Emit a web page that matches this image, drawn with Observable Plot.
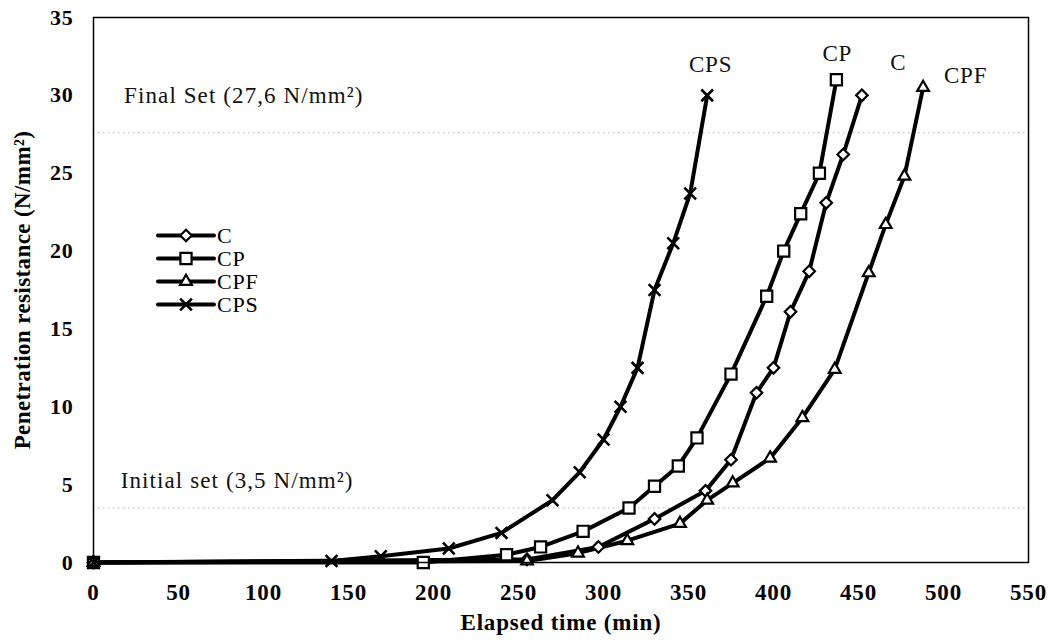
<!DOCTYPE html>
<html>
<head>
<meta charset="utf-8">
<script src="https://cdn.jsdelivr.net/npm/d3@7"></script>
<script src="https://cdn.jsdelivr.net/npm/@observablehq/plot@0.6"></script>
<style>
  html, body { margin: 0; padding: 0; background: #fff; }
  #wrap { position: relative; width: 1048px; height: 641px; font-family: "Liberation Serif", "Times New Roman", serif; }
  #legend { position: absolute; left: 156px; top: 224px; font-size: 22px; line-height: 23px; color: #000; letter-spacing: 0.8px; }
  #legend .row { display: flex; align-items: center; height: 23px; }
  #legend svg { display: block; }
  #wrap svg .wide text, #wrap svg text.wide { letter-spacing: 0.8px; }
  #wrap svg .wider text, #wrap svg text.wider { letter-spacing: 0.4px; }
  #wrap svg .setlab text, #wrap svg text.setlab { letter-spacing: 1.1px; }
</style>
</head>
<body>
<div id="wrap"></div>
<script>
// ---- Data ----
const seriesNames = ["C", "CP", "CPF", "CPS"];

const C_time = [0, 255, 297, 330, 360, 375, 390, 400, 410, 421, 431, 441, 452];
const C_val  = [0, 0.2, 1.0, 2.8, 4.6, 6.6, 10.9, 12.5, 16.1, 18.7, 23.1, 26.2, 30.0];

const CP_time = [0, 194, 243, 263, 288, 315, 330, 344, 355, 375, 396, 406, 416, 427, 437];
const CP_val  = [0, 0, 0.5, 1.0, 2.0, 3.5, 4.9, 6.2, 8.0, 12.1, 17.1, 20.0, 22.4, 25.0, 31.0];

const CPF_time = [0, 255, 285, 314, 345, 361, 376, 398, 417, 436, 456, 466, 477, 488];
const CPF_val  = [0, 0.1, 0.6, 1.4, 2.5, 4.0, 5.1, 6.7, 9.3, 12.4, 18.6, 21.7, 24.8, 30.5];

const CPS_time = [0, 140, 169, 209, 240, 270, 286, 300, 310, 320, 330, 341, 351, 361];
const CPS_val  = [0, 0.1, 0.4, 0.9, 1.9, 4.0, 5.8, 7.9, 10.0, 12.5, 17.5, 20.5, 23.7, 30.0];

const xTicks = [0, 50, 100, 150, 200, 250, 300, 350, 400, 450, 500, 550];
const yTicks = [0, 5, 10, 15, 20, 25, 30, 35];

const setLevels = [3.5, 27.6];
const setTexts = ["Initial set (3,5 N/mm²)", "Final Set (27,6 N/mm²)"];
const setTextX = [16, 18];
const setTextY = [4.8, 29.5];

const endLabelX = [473.5, 437.5, 513, 363];
const endLabelY = [31.6, 32.2, 30.8, 31.5];

const xTitle = "Elapsed time (min)";
const yTitle = "Penetration resistance (N/mm²)";

// ---- Build tables ----
const symbols = {C: "diamond2", CP: "square", CPF: "triangle2", CPS: "times"};
const radius = {C: 5.2, CP: 6.3, CPF: 5.6, CPS: 5.4};
const rows = [];
[[C_time, C_val], [CP_time, CP_val], [CPF_time, CPF_val], [CPS_time, CPS_val]].forEach(([t, v], i) => {
  t.forEach((tt, j) => rows.push({series: seriesNames[i], t: tt, v: v[j]}));
});
const setRows = setLevels.map((l, i) => ({level: l, text: setTexts[i], x: setTextX[i], y: setTextY[i]}));
const endRows = seriesNames.map((s, i) => ({text: s, x: endLabelX[i], y: endLabelY[i]}));

const font = '"Liberation Serif", "Times New Roman", serif';

const marks = [
  Plot.ruleY(setLevels, {stroke: "#b5b5b5", strokeWidth: 1, strokeDasharray: "1.5,3.5"}),
  Plot.text(setRows, {x: "x", y: "y", text: "text", textAnchor: "start", lineAnchor: "bottom", fontSize: 23, fill: "#111", className: "setlab"}),
  Plot.text(endRows, {x: "x", y: "y", text: "text", textAnchor: "middle", lineAnchor: "bottom", fontSize: 23, fill: "#111", className: "wide"}),
  Plot.line(rows, {x: "t", y: "v", z: "series", stroke: "#000", strokeWidth: 4, strokeLinejoin: "round", strokeLinecap: "round"})
];
for (const s of seriesNames) {
  const d = rows.filter(r => r.series === s);
  marks.push(Plot.dot(d, {
    x: "t", y: "v", symbol: () => symbols[s], r: radius[s],
    fill: s === "CPS" ? "none" : "#fff", stroke: "#000", strokeWidth: s === "CPS" ? 2.6 : 2.2
  }));
}
marks.push(
  Plot.frame({stroke: "#000", strokeWidth: 1.5}),
  Plot.axisX({ticks: xTicks, tickSize: 0, tickPadding: 21, label: null, fontWeight: "bold", fontSize: 23, tickFormat: d => String(d), className: "wide"}),
  Plot.axisY({ticks: yTicks, tickSize: 0, tickPadding: 20, label: null, fontWeight: "bold", fontSize: 22, tickFormat: d => String(d), className: "wide"}),
  Plot.text([xTitle], {frameAnchor: "bottom", textAnchor: "middle", dy: 60, lineAnchor: "middle", text: d => d, fontWeight: "bold", fontSize: 23, className: "wide"}),
  Plot.text([yTitle], {frameAnchor: "left", textAnchor: "middle", dx: -71, rotate: -90, lineAnchor: "middle", text: d => d, fontWeight: "bold", fontSize: 23, className: "wider"})
);

const chart = Plot.plot({
  width: 1048,
  height: 641,
  marginLeft: 93,
  marginRight: 20,
  marginTop: 17,
  marginBottom: 79,
  x: {domain: [0, 550]},
  y: {domain: [0, 35]},
  style: {fontFamily: font, background: "#fff", color: "#000", overflow: "visible"},
  marks
});
const wrap = document.getElementById("wrap");
wrap.appendChild(chart);

// ---- Legend overlay ----
const legend = document.createElement("div");
legend.id = "legend";
for (const s of seriesNames) {
  const row = document.createElement("div");
  row.className = "row";
  const svg = d3.create("svg").attr("width", 60).attr("height", 23);
  svg.append("line").attr("x1", 2).attr("x2", 58).attr("y1", 11.5).attr("y2", 11.5)
    .attr("stroke", "#000").attr("stroke-width", 4).attr("stroke-linecap", "round");
  const symMap = {diamond2: d3.symbolDiamond2, square: d3.symbolSquare, triangle2: d3.symbolTriangle2, times: d3.symbolTimes};
  svg.append("path")
    .attr("d", d3.symbol(symMap[symbols[s]], Math.PI * radius[s] * radius[s])())
    .attr("transform", "translate(30,11.5)")
    .attr("fill", s === "CPS" ? "none" : "#fff")
    .attr("stroke", "#000").attr("stroke-width", s === "CPS" ? 2.6 : 2.2);
  row.appendChild(svg.node());
  const lab = document.createElement("span");
  lab.textContent = s;
  lab.style.marginLeft = "1px";
  row.appendChild(lab);
  legend.appendChild(row);
}
wrap.appendChild(legend);
</script>
</body>
</html>
